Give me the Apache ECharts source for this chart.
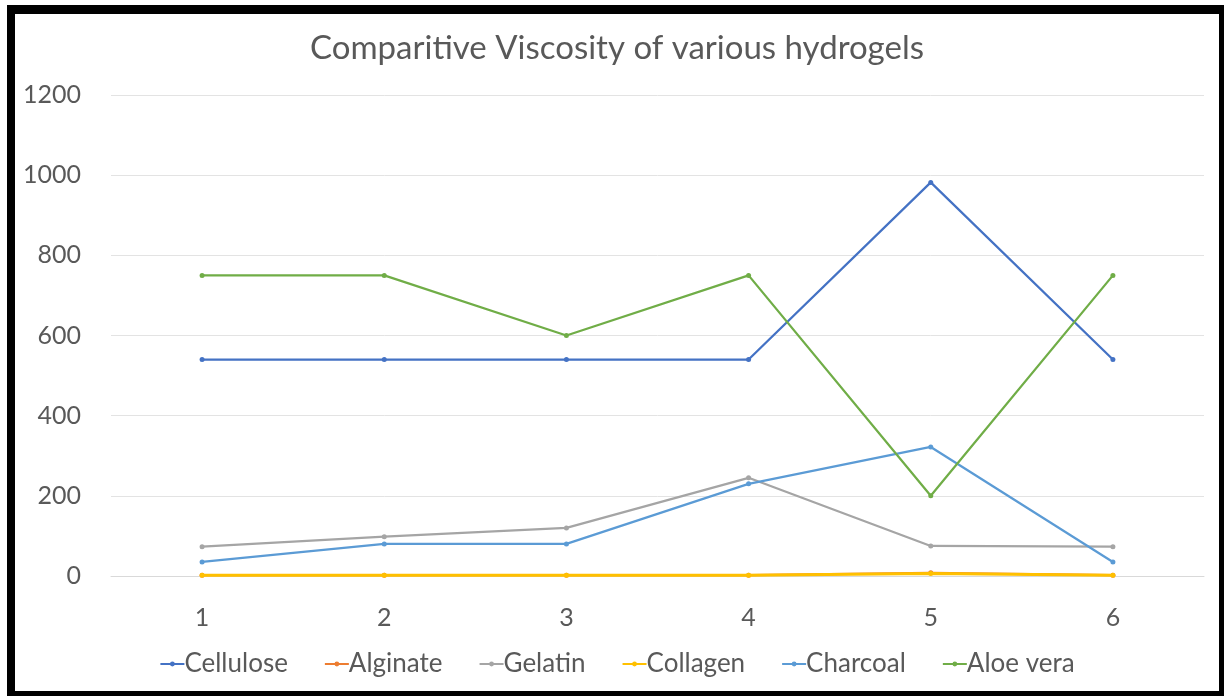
<!DOCTYPE html>
<html>
<head>
<meta charset="utf-8">
<script src="https://cdn.jsdelivr.net/npm/echarts@6/dist/echarts.min.js"></script>
<style>
  html, body { margin:0; padding:0; background:#fff; width:1224px; height:696px; overflow:hidden; }
  #frame { position:absolute; left:7px; top:5px; width:1217px; height:691px; background:#000; }
  #chart { position:absolute; left:15px; top:14px; width:1204px; height:677px; background:#fff; }
</style>
</head>
<body>
<div id="frame"></div>
<div id="chart"></div>
<script>
const titleText = 'Comparitive Viscosity of various hydrogels';
const categories = ['1', '2', '3', '4', '5', '6'];
const seriesNames = ['Cellulose', 'Alginate', 'Gelatin', 'Collagen', 'Charcoal', 'Aloe vera'];
const cellulose = [540, 540, 540, 540, 982, 540];
const alginate  = [2, 2, 2, 2, 8, 2];
const gelatin   = [73, 98, 120, 245, 75, 73];
const collagen  = [2, 2, 2, 2, 6, 2];
const charcoal  = [35, 80, 80, 230, 322, 35];
const aloeVera  = [750, 750, 600, 750, 200, 750];
const yTicks = [0, 200, 400, 600, 800, 1000, 1200];
const colors = ['#4472C4', '#ED7D31', '#A5A5A5', '#FFC000', '#5B9BD5', '#70AD47'];
const dataList = [cellulose, alginate, gelatin, collagen, charcoal, aloeVera];

const FONT = 'Lato, "Open Sans", sans-serif';
const chart = echarts.init(document.getElementById('chart'), null, { renderer: 'canvas' });
chart.setOption({
  animation: false,
  color: colors,
  title: {
    text: titleText,
    left: 'center',
    top: 13,
    textStyle: { fontFamily: FONT, fontSize: 33, fontWeight: 'normal', color: '#595959' }
  },
  legend: {
    data: seriesNames,
    bottom: 9,
    left: 'center',
    itemWidth: 24,
    itemHeight: 6,
    itemGap: 36,
    textStyle: { fontFamily: FONT, fontSize: 26, color: '#595959', padding: [0, 0, 0, -5] }
  },
  grid: { left: 96, right: 15, top: 81, bottom: 115, containLabel: false },
  xAxis: {
    type: 'category',
    data: categories,
    boundaryGap: true,
    axisLine: { show: true, lineStyle: { color: '#d9d9d9', width: 1 } },
    axisTick: { show: false },
    axisLabel: { fontFamily: FONT, fontSize: 25, color: '#595959', margin: 29 }
  },
  yAxis: {
    type: 'value',
    min: yTicks[0],
    max: yTicks[yTicks.length - 1],
    interval: yTicks[1] - yTicks[0],
    axisLine: { show: false },
    axisTick: { show: false },
    axisLabel: { fontFamily: FONT, fontSize: 25, color: '#595959', margin: 30, formatter: v => String(v) },
    splitLine: { lineStyle: { color: '#e3e3e3', width: 1 } }
  },
  series: seriesNames.map((name, i) => ({
    name: name,
    type: 'line',
    data: dataList[i],
    symbol: 'circle',
    symbolSize: 5,
    lineStyle: { width: name === 'Collagen' ? 3 : 2.25, color: colors[i] },
    itemStyle: { color: colors[i] },
    z: 2 + i
  }))
});
</script>
</body>
</html>
